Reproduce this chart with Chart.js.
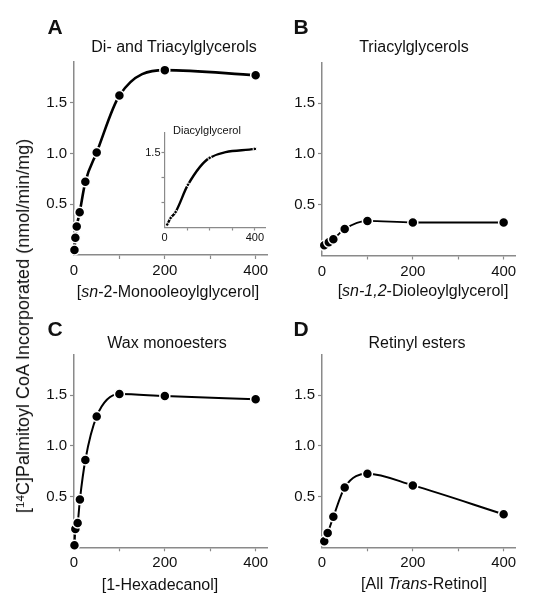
<!DOCTYPE html>
<html>
<head>
<meta charset="utf-8">
<script src="https://cdn.jsdelivr.net/npm/chart.js@4.4.1/dist/chart.umd.min.js"></script>
<style>
body { margin: 0; background: #fff; }
#wrap { position: relative; width: 534px; height: 605px; overflow: hidden; font-family: 'Liberation Sans', Arial, sans-serif; color: #111; }
canvas { position: absolute; left: 0; top: 0; }
.txt { position: absolute; transform: translate(-50%, -50%); white-space: nowrap; font-size: 16px; line-height: 1; }
.letter { font-weight: bold; font-size: 21px; }
.small { font-size: 11px; }
.ytitle { transform: translate(-50%, -50%) rotate(-90deg); font-size: 18px; }
sup { font-size: 0.65em; position: relative; top: -0.45em; vertical-align: baseline; }
</style>
</head>
<body>
<div id="wrap">
  <canvas id="chartA"></canvas>
  <canvas id="chartInset"></canvas>
  <canvas id="chartB"></canvas>
  <canvas id="chartC"></canvas>
  <canvas id="chartD"></canvas>

  <div class="txt letter" style="left:55px;top:26px">A</div>
  <div class="txt letter" style="left:301px;top:26px">B</div>
  <div class="txt letter" style="left:55px;top:328px">C</div>
  <div class="txt letter" style="left:301px;top:328px">D</div>

  <div class="txt" style="left:174px;top:47px">Di- and Triacylglycerols</div>
  <div class="txt" style="left:414px;top:47px">Triacylglycerols</div>
  <div class="txt" style="left:167px;top:343px">Wax monoesters</div>
  <div class="txt" style="left:417px;top:343px">Retinyl esters</div>
  <div class="txt small" style="left:207px;top:130px">Diacylglycerol</div>

  <div class="txt" style="left:168px;top:292px">[<i>sn</i>-2-Monooleoylglycerol]</div>
  <div class="txt" style="left:423px;top:291px">[<i>sn-1,2</i>-Dioleoylglycerol]</div>
  <div class="txt" style="left:160px;top:585px">[1-Hexadecanol]</div>
  <div class="txt" style="left:424px;top:584px">[All <i>Trans</i>-Retinol]</div>

  <div class="txt ytitle" style="left:23px;top:326px">[<sup>14</sup>C]Palmitoyl CoA Incorporated (nmol/min/mg)</div>
</div>

<script>
// tick labels shown on the axes
const xTickLabels = [0, 200, 400];
const yTickLabels = [0.5, 1.0, 1.5];
const insetXTickLabels = [0, 400];
const insetYTickLabels = [1.5];

// A - di- and triacylglycerols vs [sn-2-monooleoylglycerol]
const monoConc = [1, 3, 6, 12.5, 25, 50, 100, 200, 400];
const diTriAcyl = [0.05, 0.17, 0.28, 0.42, 0.72, 1.01, 1.57, 1.82, 1.77];

// A inset - diacylglycerol
const insetConc = [12, 27, 49, 104, 200, 400];
const diAcyl = [0.06, 0.19, 0.31, 0.86, 1.40, 1.58];

// B - triacylglycerols vs [sn-1,2-dioleoylglycerol]
const dioleoylConc = [5, 15, 25, 50, 100, 200, 400];
const triAcyl = [0.10, 0.13, 0.16, 0.26, 0.34, 0.325, 0.325];

// C - wax monoesters vs [1-hexadecanol]
const hexadecanolConc = [1, 3, 8, 13, 25, 50, 100, 200, 400];
const waxEsters = [0.02, 0.18, 0.24, 0.47, 0.86, 1.29, 1.51, 1.49, 1.46];

// D - retinyl esters vs [all trans-retinol]
const retinolConc = [5, 12.5, 25, 50, 100, 200, 400];
const retinylEsters = [0.06, 0.14, 0.30, 0.59, 0.725, 0.61, 0.325];

const AXIS = '#8a8a8a';
const W = 534, H = 605;

Chart.defaults.font.family = "'Liberation Sans', Arial, sans-serif";
Chart.defaults.color = '#111';

function makePanel(id, area, xs, ys, o) {
    const canvas = document.getElementById(id);
    canvas.width = W;
    canvas.height = H;
    const hide = 'rgba(0,0,0,0)';

    return new Chart(canvas, {
        type: 'line',
        data: {
            datasets: [{
                data: xs.map((x, i) => ({ x: x, y: ys[i] })),
                borderColor: '#000',
                borderWidth: o.lw,
                pointRadius: o.pr,
                pointBackgroundColor: '#000',
                pointBorderColor: '#fff',
                pointBorderWidth: o.pbw,
                cubicInterpolationMode: 'monotone',
                fill: false,
                clip: false
            }]
        },
        options: {
            responsive: false,
            animation: false,
            events: [],
            layout: {
                padding: {
                    left: area.left - o.yw,
                    top: area.top,
                    right: W - area.right,
                    bottom: H - area.bottom - o.xh
                }
            },
            plugins: { legend: { display: false }, tooltip: { enabled: false } },
            scales: {
                x: {
                    type: 'linear',
                    min: 0,
                    max: o.xmax,
                    afterFit: s => { s.height = o.xh; },
                    ticks: {
                        stepSize: 100,
                        includeBounds: false,
                        autoSkip: false,
                        maxRotation: 0,
                        padding: o.tp,
                        font: { size: o.fs },
                        color: '#111',
                        callback: v => o.xLabels.includes(v) ? String(v) : ''
                    },
                    grid: {
                        drawOnChartArea: false,
                        drawTicks: true,
                        tickLength: o.tl,
                        tickWidth: 1.2,
                        tickColor: c => (c.tick && c.tick.value === 0) ? hide : AXIS
                    },
                    border: { color: AXIS, width: o.aw }
                },
                y: {
                    type: 'linear',
                    min: 0,
                    max: 1.9,
                    afterFit: s => { s.width = o.yw; },
                    ticks: {
                        stepSize: 0.5,
                        includeBounds: false,
                        autoSkip: false,
                        padding: o.tp,
                        font: { size: o.fs },
                        color: '#111',
                        callback: v => o.yLabels.includes(v) ? v.toFixed(1) : ''
                    },
                    grid: {
                        drawOnChartArea: false,
                        drawTicks: true,
                        tickLength: o.tl,
                        tickWidth: 1.2,
                        tickColor: c => (c.tick && c.tick.value === 0) ? hide : AXIS
                    },
                    border: { color: AXIS, width: o.aw }
                }
            }
        }
    });
}

const mainOpts = { yw: 50, xh: 30, xmax: 425, fs: 15, tp: 3, tl: 4, aw: 1.5, pr: 5, pbw: 1.5, xLabels: xTickLabels, yLabels: yTickLabels };

makePanel('chartA', { left: 74, right: 267, top: 62, bottom: 255 }, monoConc, diTriAcyl, Object.assign({}, mainOpts, { lw: 2.6 }));
makePanel('chartB', { left: 322, right: 515, top: 62.5, bottom: 255.5 }, dioleoylConc, triAcyl, Object.assign({}, mainOpts, { lw: 1.8 }));
makePanel('chartC', { left: 74, right: 267, top: 354.5, bottom: 547.3 }, hexadecanolConc, waxEsters, Object.assign({}, mainOpts, { lw: 2 }));
makePanel('chartD', { left: 322, right: 515, top: 354.5, bottom: 547.3 }, retinolConc, retinylEsters, Object.assign({}, mainOpts, { lw: 2 }));

makePanel('chartInset', { left: 164.5, right: 265, top: 133, bottom: 227.5 }, insetConc, diAcyl,
    { yw: 30, xh: 20, xmax: 445, fs: 11, tp: 1, tl: 3, aw: 1.2, lw: 2.4, pr: 1.8, pbw: 1, xLabels: insetXTickLabels, yLabels: insetYTickLabels });
</script>
</body>
</html>
